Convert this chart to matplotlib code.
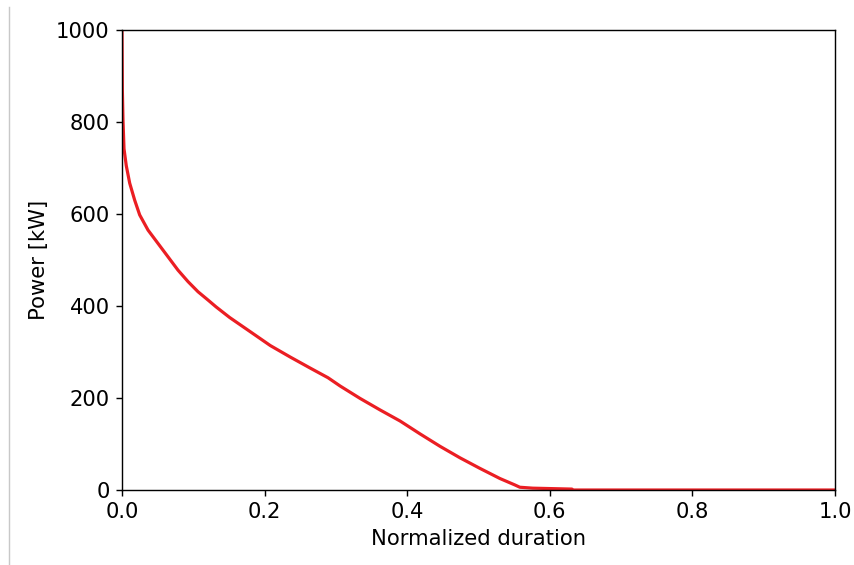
import matplotlib
matplotlib.use("Agg")
import matplotlib.pyplot as plt
from matplotlib.lines import Line2D

# load duration curve
duration = [0.0, 0.0005, 0.0014, 0.0028, 0.006, 0.0108, 0.0178, 0.0248,
            0.0365, 0.0505, 0.0645, 0.0785, 0.0926, 0.1066, 0.1206, 0.132,
            0.151, 0.180, 0.208, 0.236, 0.264, 0.289, 0.306, 0.334, 0.362,
            0.390, 0.418, 0.446, 0.474, 0.502, 0.530, 0.551, 0.558, 0.576,
            0.631, 0.633, 1.0]
power = [1000, 870, 804, 742, 705, 667, 630, 598,
         565, 536, 507, 478, 453, 431, 413, 398,
         375, 344, 314, 289, 265, 244, 226, 199, 174,
         150, 122, 95, 70, 47, 25, 11, 6, 4,
         2, 0, 0]

dpi = 127
fig = plt.figure(figsize=(854 / dpi, 565 / dpi), dpi=dpi)
ax = fig.add_axes([122 / 854, 75 / 565, 713 / 854, 460 / 565])

ax.plot(duration, power, color="#eb1e23", lw=1.8)
ax.set_xlim(0, 1)
ax.set_ylim(0, 1000)
ax.set_xticks([0.0, 0.2, 0.4, 0.6, 0.8, 1.0])
ax.set_yticks([0, 200, 400, 600, 800, 1000])
ax.tick_params(labelsize=12)
ax.set_xlabel("Normalized duration", fontsize=12)
ax.set_ylabel("Power [kW]", fontsize=12)

# thin grey page edge on the left
fig.add_artist(Line2D([8.5 / 854, 8.5 / 854], [0, 1 - 7 / 565],
                      transform=fig.transFigure, color="#c8c8c8", lw=0.8))

fig.savefig("out.png", dpi=dpi)
